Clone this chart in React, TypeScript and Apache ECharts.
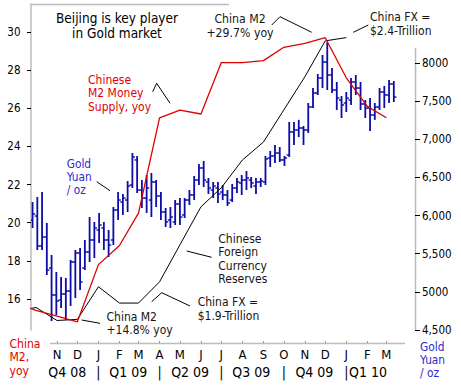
import React, { useEffect, useRef } from "react";
import * as echarts from "echarts";

const DAY = 86400000;
const toTime = (s: string) => {
  const [y, m, d] = s.split("-").map(Number);
  return Date.UTC(y, m - 1, d);
};

// Monthly readings (month-end), plotted on the first day of the following month
const monthlyDates = [
  "2008-09-01", "2008-10-01", "2008-11-01", "2008-12-01",
  "2009-01-01", "2009-02-01", "2009-03-01", "2009-04-01", "2009-05-01", "2009-06-01",
  "2009-07-01", "2009-08-01", "2009-09-01", "2009-10-01", "2009-11-01", "2009-12-01",
  "2010-01-01", "2010-02-01", "2010-03-01",
];
// China M2 money supply, % yoy (left axis)
const m2Yoy = [15.8, 15.4, 15.1, 14.8, 17.8, 18.8, 20.5, 25.5, 25.9, 25.7, 28.4, 28.4, 28.5, 29.2, 29.4, 29.7, 27.6, 26.1, 25.5];
// China foreign currency reserves, $bn (no visible axis)
const fxReserves = [1896, 1904, 1880, 1882, 1942, 1912, 1912, 1951, 2019, 2089, 2124, 2175, 2208, 2267, 2328, 2394, 2400];

// Weekly gold bars in Yuan / oz (right axis), weeks ending Friday
const firstWeek = "2008-09-26";
const goldOpen = [
  5942, 5994, 5601, 5719, 5313, 4959, 4893, 4972, 5011, 5392,
  5510, 5313, 5523, 5680, 5811, 5837, 5680, 5680, 6073, 6178,
  6204, 6401, 6729, 6335, 6230, 6204, 6440, 6257, 6047, 5942,
  5916, 6152, 6008, 6204, 6270, 6466, 6624, 6440, 6335, 6361,
  6309, 6270, 6204, 6361, 6427, 6466, 6466, 6388, 6440, 6440,
  6755, 6781, 6820, 6729, 6794, 7096, 7122, 7148, 7122, 7423,
  7607, 7803, 8013, 7843, 7646, 7515, 7476, 7515, 7751, 7672,
  7463, 7410, 7318, 7423, 7620, 7581, 7725,
];
const goldHigh = [
  6178, 6244, 6309, 5903, 5483, 5260, 5195, 5182, 5418, 5549,
  5575, 5680, 5981, 5916, 6034, 5916, 5811, 6112, 6309, 6283,
  6453, 6820, 6781, 6466, 6532, 6558, 6466, 6309, 6099, 6112,
  6204, 6230, 6230, 6335, 6519, 6676, 6716, 6493, 6440, 6440,
  6401, 6335, 6414, 6493, 6532, 6584, 6506, 6493, 6493, 6781,
  6847, 6925, 6899, 6781, 7227, 7227, 7255, 7174, 7476, 7672,
  7856, 8105, 8275, 7935, 7751, 7568, 7620, 7803, 7843, 7751,
  7515, 7541, 7476, 7672, 7699, 7777, 7764,
];
const goldLow = [
  5837, 5549, 5549, 5221, 4618, 4697, 4788, 4631, 4815, 4920,
  5024, 5286, 5392, 5444, 5641, 5549, 5457, 5614, 5942, 6008,
  6047, 6361, 6296, 6099, 6034, 5981, 6112, 5942, 5850, 5837,
  5876, 5876, 5968, 6139, 6204, 6401, 6375, 6283, 6230, 6165,
  6204, 6126, 6178, 6296, 6270, 6335, 6361, 6283, 6375, 6401,
  6637, 6689, 6702, 6650, 6768, 6925, 7030, 6925, 7083, 7410,
  7581, 7672, 7646, 7607, 7384, 7279, 7358, 7450, 7581, 7384,
  7279, 7109, 7255, 7384, 7410, 7476, 7489,
];
const goldClose = [
  6021, 5601, 5719, 5286, 4959, 4880, 4972, 5011, 5392, 5510,
  5129, 5523, 5680, 5837, 5876, 5680, 5614, 6073, 6204, 6230,
  6388, 6768, 6335, 6230, 6361, 6440, 6257, 6047, 5916, 5981,
  6152, 5981, 6204, 6270, 6466, 6624, 6466, 6361, 6388, 6283,
  6270, 6165, 6361, 6440, 6466, 6493, 6427, 6440, 6453, 6742,
  6781, 6820, 6729, 6755, 7096, 7122, 7148, 7122, 7423, 7607,
  7803, 8013, 7843, 7646, 7541, 7450, 7541, 7751, 7672, 7463,
  7410, 7318, 7423, 7620, 7581, 7725, 7554,
];

// Axis labels
const monthTickDates = [
  "2008-11-01", "2008-12-01", "2009-01-01", "2009-02-01", "2009-03-01", "2009-04-01",
  "2009-05-01", "2009-06-01", "2009-07-01", "2009-08-01", "2009-09-01", "2009-10-01",
  "2009-11-01", "2009-12-01", "2010-01-01", "2010-02-01", "2010-03-01",
];
const monthLetters = ["N", "D", "J", "F", "M", "A", "M", "J", "J", "A", "S", "O", "N", "D", "J", "F", "M"];
const quarterDates = [
  "2008-11-16", "2009-01-01", "2009-02-14", "2009-04-01", "2009-05-16", "2009-07-01",
  "2009-08-14", "2009-10-01", "2009-11-15", "2010-01-01", "2010-02-02",
];
const quarterLabels = ["Q4 08", "|", "Q1 09", "|", "Q2 09", "|", "Q3 09", "|", "Q4 09", "|", "Q1 10"];
const leftTicks = [16, 18, 20, 22, 24, 26, 28, 30];
const rightTicks = [8000, 7500, 7000, 6500, 6000, 5500, 5000, 4500];
const rightTickLabels = ["8000", "7,500", "7,000", "6,500", "6,000", "5,500", "5000", "4,500"];

const FONT = "'DejaVu Sans Condensed', 'Liberation Sans', Arial, sans-serif";
const RED = "#e00000";
const BLUE_BAR = "#0c0ca6";
const BLUE_TXT = "#2a2ad2";
const DARK = "#151515";
const GRID_GREY = "#bcbcbc";

const NOV1 = Date.UTC(2008, 10, 1);

function txt(text: string, x: number, y: number, color: string, size: number, lh: number, align = "left") {
  return {
    type: "text",
    x,
    y,
    silent: true,
    style: {
      text,
      fill: color,
      fontSize: size,
      fontFamily: FONT,
      lineHeight: lh,
      align,
      textAlign: align,
      verticalAlign: "top",
      textVerticalAlign: "top",
    },
  };
}
function leader(points: number[][], color = "#000") {
  return { type: "polyline", silent: true, shape: { points }, style: { stroke: color, lineWidth: 1, fill: null } };
}
function rule(x1: number, y1: number, x2: number, y2: number, w = 1.5) {
  return { type: "line", silent: true, shape: { x1, y1, x2, y2 }, style: { stroke: GRID_GREY, lineWidth: w } };
}

export default function App() {
  const ref = useRef<HTMLDivElement>(null);
  useEffect(() => {
    document.body.style.margin = "0";
    const chart = echarts.init(ref.current!, null, { renderer: "svg", width: 461, height: 388 });

    const monthMap = new Map<number, string>();
    monthTickDates.forEach((d, i) => monthMap.set(toTime(d), monthLetters[i]));
    const quarterMap = new Map<number, string>();
    quarterDates.forEach((d, i) => quarterMap.set(toTime(d), quarterLabels[i]));
    const rightMap = new Map<number, string>();
    rightTicks.forEach((v, i) => rightMap.set(v, rightTickLabels[i]));

    const week0 = toTime(firstWeek);
    const goldData = goldOpen.map((o, i) => [week0 + i * 7 * DAY, o, goldHigh[i], goldLow[i], goldClose[i]]);
    const m2Data = m2Yoy.map((v, i) => [toTime(monthlyDates[i]), v]);
    const fxData = fxReserves.map((v, i) => [toTime(monthlyDates[i]), v]);

    const xMin = NOV1 - 38.3 * DAY;
    const xMax = NOV1 + 527.2 * DAY;

    const option: any = {
      animation: false,
      backgroundColor: "#ffffff",
      textStyle: { fontFamily: FONT },
      grid: { left: 31, right: 46, top: 4, bottom: 58, containLabel: false, outerBoundsMode: "none" },
      xAxis: [
        {
          type: "value",
          min: xMin,
          max: xMax,
          offset: 13,
          position: "bottom",
          axisLine: { show: false },
          splitLine: { show: false },
          axisTick: {
            show: true,
            inside: true,
            length: 2,
            customValues: monthTickDates.map(toTime),
            lineStyle: { color: "#9a9a9a", width: 1 },
          },
          axisLabel: {
            customValues: monthTickDates.map(toTime),
            formatter: (v: number) => monthMap.get(v) ?? "",
            fontSize: 13,
            lineHeight: 13,
            margin: 4.5,
            color: "#000",
            fontFamily: FONT,
          },
        },
        {
          type: "value",
          min: xMin,
          max: xMax,
          offset: 13,
          position: "bottom",
          axisLine: { show: false },
          axisTick: { show: false },
          splitLine: { show: false },
          axisLabel: {
            customValues: quarterDates.map(toTime),
            formatter: (v: number) => quarterMap.get(v) ?? "",
            fontSize: 14,
            lineHeight: 14,
            margin: 21.5,
            color: "#000",
            fontFamily: FONT,
          },
        },
      ],
      yAxis: [
        {
          type: "value",
          position: "left",
          min: 14.37,
          max: 31.47,
          splitLine: { show: false },
          axisLine: { show: true, lineStyle: { color: GRID_GREY, width: 1.5 } },
          axisTick: { show: true, length: 4, customValues: leftTicks, lineStyle: { color: "#000", width: 1 } },
          axisLabel: {
            customValues: leftTicks,
            formatter: (v: number) => String(v),
            fontSize: 11.5,
            margin: 10.5,
            color: "#000",
            fontFamily: FONT,
          },
        },
        {
          type: "value",
          position: "right",
          min: 4500,
          max: 8773.6,
          splitLine: { show: false },
          axisLine: { show: false },
          axisTick: { show: true, length: 5, customValues: rightTicks, lineStyle: { color: "#000", width: 1 } },
          axisLabel: {
            customValues: rightTicks,
            formatter: (v: number) => rightMap.get(v) ?? "",
            fontSize: 11.5,
            margin: 7,
            color: "#000",
            fontFamily: FONT,
          },
        },
        { type: "value", show: false, min: 1862.5, max: 2461.8, splitLine: { show: false } },
      ],
      series: [
        {
          name: "Gold Yuan/oz",
          type: "custom",
          xAxisIndex: 0,
          yAxisIndex: 1,
          clip: true,
          encode: { x: 0, y: [1, 2, 3, 4] },
          data: goldData,
          z: 2,
          renderItem: (params: any, api: any) => {
            const t = api.value(0);
            const o = api.coord([t, api.value(1)]);
            const h = api.coord([t, api.value(2)]);
            const l = api.coord([t, api.value(3)]);
            const c = api.coord([t, api.value(4)]);
            return {
              type: "group",
              children: [
                { type: "line", shape: { x1: h[0], y1: h[1], x2: l[0], y2: l[1] }, style: { stroke: BLUE_BAR, lineWidth: 1.8 } },
                { type: "line", shape: { x1: o[0] - 2.6, y1: o[1], x2: o[0], y2: o[1] }, style: { stroke: BLUE_BAR, lineWidth: 1.4 } },
                { type: "line", shape: { x1: c[0], y1: c[1], x2: c[0] + 2.6, y2: c[1] }, style: { stroke: BLUE_BAR, lineWidth: 1.4 } },
              ],
            };
          },
        },
        {
          name: "FX reserves",
          type: "line",
          xAxisIndex: 0,
          yAxisIndex: 2,
          data: fxData,
          symbol: "none",
          showSymbol: false,
          clip: true,
          z: 3,
          lineStyle: { color: "#000", width: 1 },
        },
        {
          name: "China M2 yoy",
          type: "line",
          xAxisIndex: 0,
          yAxisIndex: 0,
          data: m2Data,
          symbol: "none",
          showSymbol: false,
          clip: true,
          z: 4,
          lineStyle: { color: RED, width: 1.3 },
        },
      ],
      graphic: {
        elements: [
          rule(31, 4.5, 229, 4.5),
          rule(415.5, 48, 415.5, 330),
          rule(50, 343.5, 405, 343.5),
          txt("Beijing is key player\nin Gold market", 117, 11.0, "#000", 13.5, 14.6, "center"),
          txt("China M2\n+29.7% yoy", 240, 12.25, DARK, 12.2, 14, "center"),
          leader([[271.7, 25], [280, 16.7], [311.7, 32.3]]),
          txt("China FX =\n$2.4-Trillion", 370, 10.55, DARK, 12, 13.6),
          leader([[353.3, 32.3], [368.3, 25]]),
          txt("Chinese\nM2 Money\nSupply, yoy", 88, 73, RED, 12, 13.4),
          leader([[152.7, 91.7], [156.7, 83.3], [170, 103.3]]),
          txt("Gold\nYuan\n/ oz", 66.7, 157, BLUE_TXT, 11.8, 13),
          leader([[96.7, 181.7], [110, 190.7]]),
          txt("Chinese\nForeign\nCurrency\nReserves", 218.3, 232.5, DARK, 12, 13.2),
          leader([[186.7, 251], [211.7, 257.3]]),
          txt("China FX =\n$1.9-Trillion", 197.7, 295.55, DARK, 12, 13.6),
          leader([[151.7, 301.7], [161.7, 292.7], [190, 306]]),
          txt("China M2\n+14.8% yoy", 106.5, 309.8, DARK, 12, 13.6),
          leader([[81.7, 320], [100, 323.3]]),
          txt("China\nM2,\nyoy", 9.5, 337.5, RED, 12, 13.3),
          txt("Gold\nYuan\n/ oz", 420, 340, BLUE_TXT, 11.8, 13),
        ],
      },
    };

    chart.setOption(option);
    return () => chart.dispose();
  }, []);

  return (
    <div
      ref={ref}
      style={{ position: "absolute", left: 0, top: 0, width: 461, height: 388, background: "#fff" }}
    />
  );
}
